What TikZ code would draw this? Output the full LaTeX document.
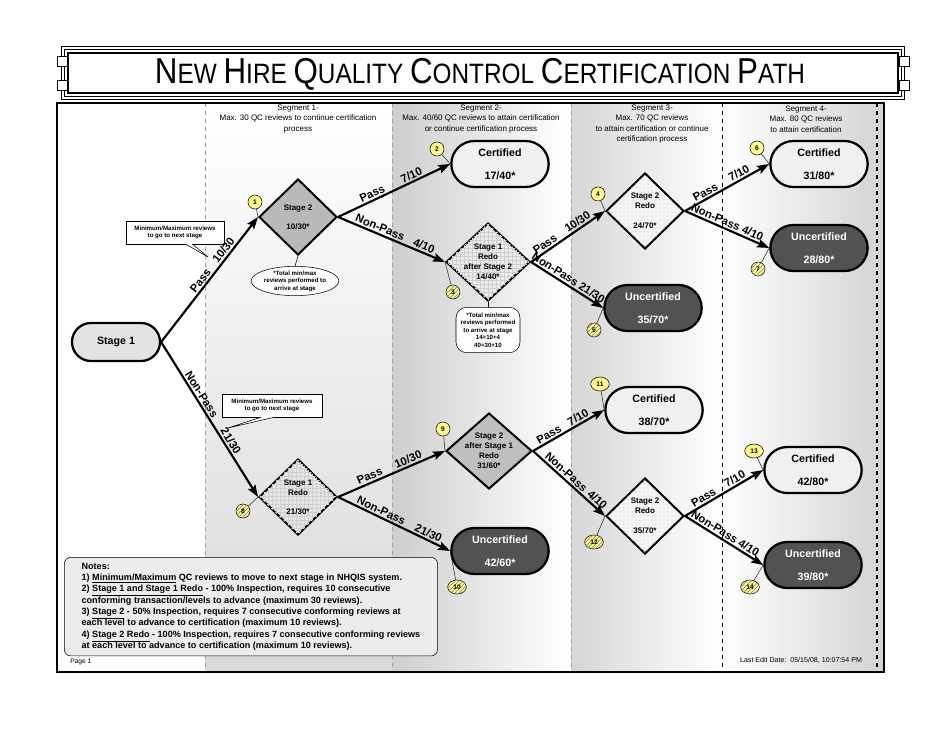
\documentclass[tikz,border=0pt]{standalone}
\usepackage{fontspec}
\setmainfont{Liberation Sans}
\setsansfont{Liberation Sans}
\newfontfamily\titlefont[FakeStretch=0.87]{Liberation Sans}
\usetikzlibrary{shapes.geometric,shapes.misc,patterns,arrows.meta}

\newcommand\fsz[2]{\fontsize{#1}{#2}\selectfont}
\newcommand\tcap[2]{{\fsz{27}{30}#1}{\fsz{21}{24}#2}}

\begin{document}
\begin{tikzpicture}[
  x=0.75pt, y=-0.75pt,
  flow/.style     = {line width=1.6pt, -{Stealth[length=9pt,width=6.5pt,inset=1.5pt]}},
  flowlbl/.style  = {sloped, above, inner sep=1.2pt, font=\fsz{8.5}{10}\bfseries},
  pill/.style     = {rounded rectangle, draw, line width=1.7pt, minimum width=73pt,
                     minimum height=34.5pt, align=center, inner sep=0pt,
                     font=\fsz{8}{9.6}\bfseries},
  certpill/.style = {pill, fill=gray!12},
  uncpill/.style  = {pill, fill=black!68, text=white},
  decision/.style = {diamond, draw, line width=1.5pt, minimum width=58.5pt,
                     minimum height=57pt, inner sep=0pt},
  gridfill/.style = {postaction={pattern=grid, pattern color=gray!38}},
  dotfill/.style  = {postaction={pattern=dots, pattern color=gray!45}},
  dtext/.style    = {align=center, inner sep=0pt, font=\fsz{6}{7.5}\bfseries},
  badge/.style    = {circle, draw, thin, fill=yellow!45, minimum size=10.5pt,
                     inner sep=0pt, font=\fsz{5}{5.5}\bfseries},
  badgewide/.style= {badge, ellipse, minimum width=14pt, minimum height=10.5pt},
  hatched/.style  = {postaction={pattern=north east lines, pattern color=black!50}},
  leader/.style   = {thin, black!85},
  note/.style     = {draw, thin, fill=white, align=center, inner sep=1pt,
                     font=\fsz{4.6}{5.6}\bfseries},
  seghead/.style  = {align=center, inner sep=0pt, font=\fsz{6}{7.8}},
]
\useasboundingbox (0,0) rectangle (942,728);

% ── Title banner ────────────────────────────────────────────────────────────
\draw[double, double distance=1.4pt, line width=0.7pt] (63,48) rectangle (903,98);
\draw[line width=1.4pt] (68,53) rectangle (898,93);
\foreach \cx/\cy in {57/56, 899/56, 57/80, 899/80} {
  \draw[line width=0.7pt, fill=white] (\cx,\cy) rectangle ++(10,10);
}
\node[font=\titlefont\fsz{21}{24}] (title) at (480,74)
  {\tcap{N}{EW} \tcap{H}{IRE} \tcap{Q}{UALITY} \tcap{C}{ONTROL}
   \tcap{C}{ERTIFICATION} \tcap{P}{ATH}};

% ── Segment backgrounds ─────────────────────────────────────────────────────
\shade[top color=white, middle color=gray!58, bottom color=gray!30] (205,103) rectangle (392,672);
\shade[left color=gray!38, right color=white] (392,103) rectangle (571,672);
\shade[left color=gray!32, right color=white] (571,103) rectangle (722,672);
\shade[left color=white, right color=gray!35] (722,103) rectangle (884,672);

\foreach \xd in {205, 392, 571} {
  \draw[gray!75, dashed, line width=0.6pt] (\xd,103) -- (\xd,672);
}
\draw[black, dashed, line width=0.4pt] (722,103) -- (722,672);
\draw[black, dashed, line width=0.8pt] (877,103) -- (877,672);
\draw[line width=2pt] (57,103) rectangle (884,672);

% ── Segment headers ─────────────────────────────────────────────────────────
\node[seghead] (hdA) at (298,119) {Segment 1-\\Max. 30 QC reviews to continue certification\\process};
\node[seghead] (hdB) at (481,119) {Segment 2-\\Max. 40/60 QC reviews to attain certification\\or continue certification process};
\node[seghead] (hdC) at (652,124) {Segment 3-\\Max. 70 QC reviews\\to attain certification or continue\\certification process};
\node[seghead] (hdD) at (806,119) {Segment 4-\\Max. 80 QC reviews\\to attain certification};

% ── Stages and outcomes ─────────────────────────────────────────────────────
\node[pill, fill=gray!22, minimum width=66pt, minimum height=28.5pt] (stageA) at (116,342) {Stage 1};

\node[decision, fill=gray!55] (stageB) at (298,217) {};
\node[dtext] (stageBtxt) at (stageB) {Stage 2\\[7pt]10/30*};
\node[certpill] (certA) at (500,164) {Certified\\[8pt]17/40*};

\node[decision, fill=gray!15, gridfill, minimum width=63pt, minimum height=58.5pt] (stageC) at (488,262) {};
\node[dtext] (stageCtxt) at (stageC) {Stage 1\\Redo\\after Stage 2\\14/40*};

\node[decision, fill=gray!8, dotfill] (stageD) at (645,211) {};
\node[dtext] (stageDtxt) at (stageD) {Stage 2\\Redo\\[7.5pt]24/70*};
\node[uncpill] (uncB) at (653,308) {Uncertified\\[8pt]35/70*};
\node[certpill] (certC) at (819,164) {Certified\\[8pt]31/80*};
\node[uncpill] (uncC) at (819,248) {Uncertified\\[8pt]28/80*};

\node[decision, fill=gray!20, gridfill] (stageE) at (298,497) {};
\node[dtext] (stageEtxt) at (stageE) {Stage 1\\Redo\\[7pt]21/30*};

\node[decision, fill=gray!50, minimum width=64.5pt] (stageF) at (489,451) {};
\node[dtext] (stageFtxt) at (stageF) {Stage 2\\after Stage 1\\Redo\\31/60*};
\node[uncpill] (uncD) at (500,551) {Uncertified\\[8pt]42/60*};
\node[certpill] (certD) at (654,410) {Certified\\[8pt]38/70*};

\node[decision, fill=gray!8, dotfill] (stageG) at (645,516) {};
\node[dtext] (stageGtxt) at (stageG) {Stage 2\\Redo\\[7.5pt]35/70*};
\node[certpill] (certE) at (813,470) {Certified\\[8pt]42/80*};
\node[uncpill] (uncE) at (813,565) {Uncertified\\[8pt]39/80*};

% ── Callouts ────────────────────────────────────────────────────────────────
\node[note, minimum width=73.5pt, minimum height=17pt] (calloutA) at (175,232.5)
  {Minimum/Maximum reviews\\to go to next stage};
\coordinate (calloutAtip) at (208,257);
\draw[thin, fill=white] ([xshift=8pt]calloutA.south) -- (calloutAtip) -- ([xshift=13pt]calloutA.south);

\node[note, minimum width=75pt, minimum height=17pt] (calloutB) at (272,405.5)
  {Minimum/Maximum reviews\\to go to next stage};
\coordinate (calloutBtip) at (228,428);
\draw[thin, fill=white] ([xshift=-8pt]calloutB.south) -- (calloutBtip) -- ([xshift=2pt]calloutB.south);

\node[note, ellipse, minimum width=58pt, minimum height=22pt, inner sep=0pt] (calloutC) at (295,281)
  {*Total min/max\\reviews performed to\\arrive at stage};
\draw[thin] (stageB.south) -- (calloutC.north);

\node[note, rounded corners=8pt, minimum width=48pt, minimum height=34pt] (calloutD) at (488,330)
  {*Total min/max\\reviews performed\\to arrive at stage\\14=10+4\\40=30+10};
\draw[thin] (stageC.south) -- (calloutD.north);

% ── Flow arrows ─────────────────────────────────────────────────────────────
\draw[flow] (stageA.east) -- (stageB.west)
  node[flowlbl, pos=0.46] (lblA) {Pass} node[flowlbl, pos=0.70] (lblB) {10/30};
\draw[flow] (stageA.east) -- (stageE.west)
  node[flowlbl, pos=0.36] (lblC) {Non-Pass} node[flowlbl, pos=0.66] (lblD) {21/30};

\draw[flow] (stageB.east) -- (certA.west)
  node[flowlbl, pos=0.33] (lblE) {Pass} node[flowlbl, pos=0.68] (lblF) {7/10};
\draw[flow] (stageB.east) -- (stageC.west)
  node[flowlbl, pos=0.37] (lblG) {Non-Pass} node[flowlbl, pos=0.78] (lblH) {4/10};

\draw[flow] (stageC.east) -- (stageD.west)
  node[flowlbl, pos=0.24] (lblI) {Pass} node[flowlbl, pos=0.68] (lblJ) {10/30};
\draw[flow] (stageC.east) -- (uncB.west)
  node[flowlbl, pos=0.47] (lblK) {Non-Pass 21/30};

\draw[flow] (stageD.east) -- (certC.west)
  node[flowlbl, pos=0.28] (lblL) {Pass} node[flowlbl, pos=0.68] (lblM) {7/10};
\draw[flow] (stageD.east) -- (uncC.west)
  node[flowlbl, pos=0.47] (lblN) {Non-Pass 4/10};

\draw[flow] (stageE.east) -- (stageF.west)
  node[flowlbl, pos=0.32] (lblO) {Pass} node[flowlbl, pos=0.68] (lblP) {10/30};
\draw[flow] (stageE.east) -- (uncD.west)
  node[flowlbl, pos=0.36] (lblQ) {Non-Pass} node[flowlbl, pos=0.78] (lblR) {21/30};

\draw[flow] (stageF.east) -- (certD.west)
  node[flowlbl, pos=0.27] (lblS) {Pass} node[flowlbl, pos=0.68] (lblT) {7/10};
\draw[flow] (stageF.east) -- (stageG.west)
  node[flowlbl, pos=0.40] (lblU) {Non-Pass} node[flowlbl, pos=0.83] (lblV) {4/10};

\draw[flow] (stageG.east) -- (certE.west)
  node[flowlbl, pos=0.28] (lblW) {Pass} node[flowlbl, pos=0.68] (lblX) {7/10};
\draw[flow] (stageG.east) -- (uncE.west)
  node[flowlbl, pos=0.47] (lblY) {Non-Pass 4/10};

% ── Step badges ─────────────────────────────────────────────────────────────
\node[badge] (bdgA) at (255,202) {1};            \draw[leader] (bdgA) -- (stageB.west);
\node[badge] (bdgB) at (437,149) {2};            \draw[leader] (bdgB) -- (certA.west);
\node[badge, hatched] (bdgC) at (453,292) {3};   \draw[leader] (bdgC) -- (stageC.west);
\node[badge] (bdgD) at (598,194) {4};            \draw[leader] (bdgD) -- (stageD.west);
\node[badge, hatched] (bdgE) at (594,330) {5};   \draw[leader] (bdgE) -- (uncB.west);
\node[badge] (bdgF) at (757,148) {6};            \draw[leader] (bdgF) -- (certC.west);
\node[badge, hatched] (bdgG) at (758,269) {7};   \draw[leader] (bdgG) -- (uncC.west);
\node[badge, hatched] (bdgH) at (243,511) {8};   \draw[leader] (bdgH) -- (stageE.west);
\node[badge] (bdgI) at (443,429) {9};            \draw[leader] (bdgI) -- (stageF.west);
\node[badgewide, hatched] (bdgJ) at (457,587) {10}; \draw[leader] (bdgJ) -- (uncD.west);
\node[badgewide] (bdgK) at (600,384) {11};       \draw[leader] (bdgK) -- (certD.west);
\node[badgewide, hatched] (bdgL) at (594,542) {12}; \draw[leader] (bdgL) -- (stageG.west);
\node[badgewide] (bdgM) at (754,451) {13};       \draw[leader] (bdgM) -- (certE.west);
\node[badgewide, hatched] (bdgN) at (750,587) {14}; \draw[leader] (bdgN) -- (uncE.west);

% ── Notes ───────────────────────────────────────────────────────────────────
\node[draw, thin, rounded corners=5pt, fill=gray!15, align=left, anchor=north west,
      inner sep=2pt, minimum width=280pt, minimum height=74pt, font=\fsz{6.8}{8.5}\bfseries]
  (notes) at (64,557)
  {Notes:\\
   1) \underline{Minimum/Maximum} QC reviews to move to next stage in NHQIS system.\\
   2) \underline{Stage 1 and Stage 1 Redo} - 100\% Inspection, requires 10 consecutive\\
   conforming transaction/levels to advance (maximum 30 reviews).\\
   3) \underline{Stage 2} - 50\% Inspection, requires 7 consecutive conforming reviews at\\
   each level to advance to certification (maximum 10 reviews).\\
   4) \underline{Stage 2 Redo} - 100\% Inspection, requires 7 consecutive conforming reviews\\
   at each level to advance to certification (maximum 10 reviews).};

\node[anchor=west, inner sep=0pt, font=\fsz{5}{6}] (pagenum) at (70,662) {Page 1};
\node[inner sep=0pt, font=\fsz{5.3}{6}] (editdate) at (801,660) {Last Edit Date:\ \ 05/15/08, 10:07:54 PM};

\end{tikzpicture}
\end{document}
